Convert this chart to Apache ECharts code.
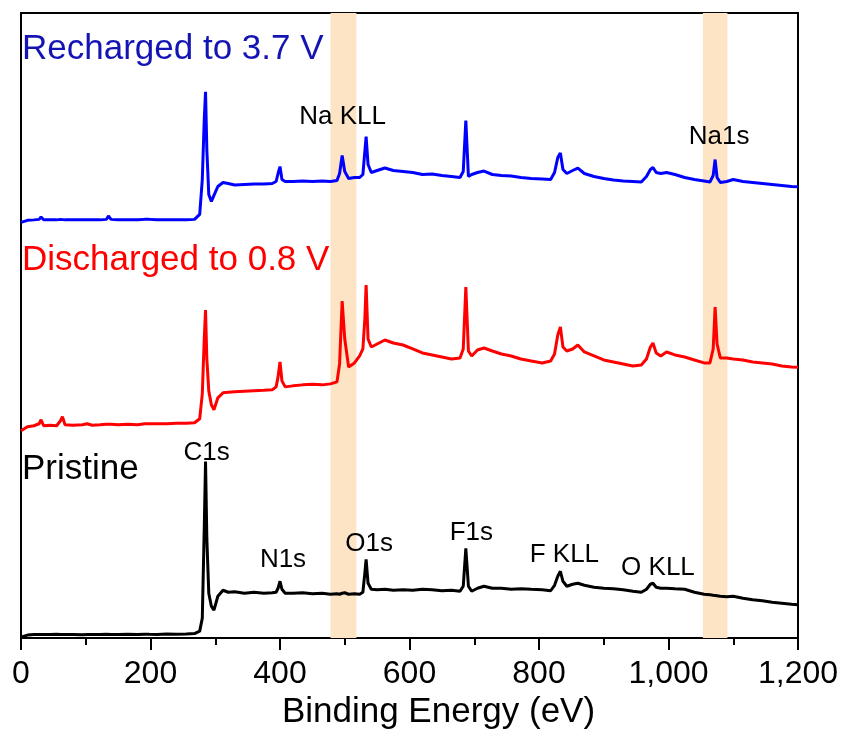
<!DOCTYPE html>
<html>
<head>
<meta charset="utf-8">
<title>XPS survey spectra</title>
<script src="https://cdn.jsdelivr.net/npm/echarts@6/dist/echarts.min.js"></script>
<style>
  html, body { margin: 0; padding: 0; background: #fff; }
  #chart { width: 846px; height: 735px; }
</style>
</head>
<body>
<div id="chart"></div>
<script>
// Binding energy grid (eV) shared by the three survey spectra
const energy = [
  0, 10, 20, 28, 31, 35, 45, 55, 61, 64, 68, 80, 95, 102, 110, 122, 132, 135, 139, 150,
  165, 180, 191, 194, 198, 210, 225, 240, 255, 268, 276, 280, 283, 285, 287, 290, 294, 298, 304, 312,
  320, 330, 345, 360, 375, 388, 394, 397, 400, 403, 408, 420, 435, 450, 465, 478, 488, 492, 496, 500,
  506, 515, 523, 528, 531, 533, 536, 541, 550, 562, 575, 590, 605, 620, 635, 650, 665, 678, 683, 687,
  691, 696, 705, 715, 728, 742, 757, 772, 788, 805, 818, 824, 829, 833, 837, 843, 852, 860, 870, 885,
  900, 915, 930, 945, 958, 966, 972, 976, 981, 988, 997, 1010, 1025, 1040, 1055, 1064, 1069, 1072, 1075, 1080,
  1090, 1100, 1115, 1130, 1145, 1160, 1175, 1190, 1200
];

// Stacked intensities (a.u., offset per sample)
const pristine = [
  1, 3, 3.5, 3.5, 4, 3.5, 3.5, 3.8, 3.5, 3.8, 3.5, 3.6, 3.4, 3.7, 3.5, 3.6, 3.8, 3.6, 3.7, 3.5,
  3.8, 3.6, 3.9, 3.7, 3.8, 3.7, 4, 3.8, 4.1, 4.5, 7, 20, 110, 177, 100, 45, 32, 28, 42, 48,
  46, 46.5, 45, 46, 45, 45.5, 46, 50, 57, 49, 45, 45, 45.5, 44.5, 45, 44, 44.5, 44, 45, 45.5,
  44, 44.5, 44, 46, 65, 79, 55, 49, 48.5, 49, 48, 48.5, 48, 49, 48.5, 47.5, 48, 47, 52, 90,
  52, 47, 50, 52, 50, 50, 49, 49.5, 49, 48.5, 47.5, 53, 62, 67, 57, 52, 54, 55, 53, 51,
  50, 49.5, 48.5, 47, 46, 49, 54, 55, 51, 50, 50, 49.5, 49, 46, 44, 43.5, 43, 43.5, 42.5, 42,
  41.5, 42, 40, 38.5, 37.5, 36, 35, 34, 33.5
];

const discharged = [
  208, 212, 213, 215, 219, 213, 213.5, 213, 218, 222, 214, 213.5, 214, 215, 213.5, 214, 214.5, 214, 214.5, 214,
  214.5, 214, 215, 215.5, 215, 215, 215, 215.5, 215.5, 216, 220, 245, 300, 329, 280, 248, 234, 229, 241, 246,
  246.5, 247, 247.5, 248, 248.5, 249, 252, 262, 277, 258, 252, 253, 254, 254.5, 254, 255, 257, 275, 338, 300,
  272, 276, 283, 290, 320, 354, 300, 292, 295, 299, 296, 294, 290, 286, 284, 282, 280, 281, 290, 352,
  288, 283, 289, 291, 288, 285, 283, 280, 278, 276, 278, 285, 304, 312, 292, 288, 290, 294, 287, 283,
  279, 277, 275, 273, 274, 280, 292, 296, 286, 283, 287, 284, 282, 279, 276, 276, 290, 332, 295, 281,
  281, 280, 279, 277, 276, 275, 273, 272, 271.7
];

const recharged = [
  417, 419, 419.5, 420, 422.5, 419.5, 419.5, 419.5, 420, 422, 419.5, 419.5, 419.5, 419.5, 419.5, 419.5, 420, 423.5, 420, 419.5,
  419.5, 419.5, 420, 422, 420, 419.5, 419.5, 419.5, 419.5, 420, 425, 460, 520, 548, 490, 445, 438, 444, 453, 457,
  456, 454.5, 455, 455.5, 455.5, 456, 458, 466, 473, 460, 458, 458, 458.5, 458, 458.5, 458, 459, 466, 484, 468,
  461, 462, 462, 465, 488, 503, 475, 467, 469, 471.5, 469, 468, 467, 465, 465.5, 464, 463, 462, 468, 519,
  463, 465, 467, 468.5, 465, 464, 463.5, 462, 461, 460.5, 460, 467, 482, 486.5, 470, 466, 469, 471.5, 466, 463,
  461, 459.5, 458.5, 458, 457.5, 463, 470, 472, 467, 466, 467, 465, 462, 460, 458.5, 457.5, 464, 480, 462, 457,
  458, 460, 458, 457, 456, 455, 454, 453, 452.7
];

const sampleNames = ['Recharged to 3.7 V', 'Discharged to 0.8 V', 'Pristine'];

// Peak assignments
const pristinePeakNames = ['C1s', 'N1s', 'O1s', 'F1s', 'F KLL', 'O KLL'];
const pristinePeakEnergies = [285, 400, 533, 687, 833, 976];
const rechargedPeakNames = ['Na KLL', 'Na1s'];
const rechargedPeakEnergies = [496, 1072];

// Highlighted Na regions (eV)
const naBands = [[478, 518], [1053, 1091]];

// Axis range
const xMin = 0, xMax = 1200, xStep = 200;
const yMin = 0, yMax = 627;

const FONT = '"Liberation Sans", Arial, sans-serif';

// Label nudges (px) relative to each peak top
const labelOffsets = {
  'C1s': [1, -9], 'N1s': [3, -21], 'O1s': [3, -16], 'F1s': [5.5, -15.5],
  'F KLL': [4, -16], 'O KLL': [5, -15.5], 'Na KLL': [0.5, -38.5], 'Na1s': [4, -23]
};

function pairs(values) {
  return energy.map((e, i) => [e, values[i]]);
}

function peakMarks(names, energies, values) {
  return names.map((name, k) => {
    const idx = energy.indexOf(energies[k]);
    return {
      name: name,
      coord: [energies[k], values[idx]],
      label: { formatter: name, offset: labelOffsets[name] }
    };
  });
}

function markPointStyle(data) {
  return {
    symbol: 'circle',
    symbolSize: 1,
    itemStyle: { color: 'rgba(0,0,0,0)' },
    label: {
      show: true, position: 'inside', color: '#000',
      fontSize: 26, fontFamily: FONT, align: 'center', verticalAlign: 'middle'
    },
    data: data,
    silent: true
  };
}

function lineSeries(name, values, color) {
  return {
    name: name,
    type: 'line',
    data: pairs(values),
    showSymbol: false,
    symbol: 'none',
    lineStyle: { color: color, width: 3 },
    itemStyle: { color: color },
    z: 3,
    silent: true
  };
}

const chart = echarts.init(document.getElementById('chart'), null, { renderer: 'canvas' });

const series = [
  {
    name: 'bands',
    type: 'line',
    data: [],
    z: 1,
    silent: true,
    markArea: {
      silent: true,
      itemStyle: { color: '#FDE4C4' },
      data: naBands.map(b => [{ xAxis: b[0] }, { xAxis: b[1] }])
    }
  },
  Object.assign(lineSeries(sampleNames[0], recharged, '#0000FF'), {
    markPoint: markPointStyle(peakMarks(rechargedPeakNames, rechargedPeakEnergies, recharged))
  }),
  lineSeries(sampleNames[1], discharged, '#FF0000'),
  Object.assign(lineSeries(sampleNames[2], pristine, '#000000'), {
    markPoint: markPointStyle(peakMarks(pristinePeakNames, pristinePeakEnergies, pristine))
  })
];

const titleColors = ['#1414b4', '#FF0000', '#000000'];
const titleY = [49, 260, 469];

chart.setOption({
  animation: false,
  backgroundColor: '#fff',
  grid: {
    left: 21, right: 48, top: 13, bottom: 95,
    show: true, borderColor: '#000', borderWidth: 2, backgroundColor: 'transparent'
  },
  xAxis: {
    type: 'value',
    min: xMin, max: xMax, interval: xStep,
    name: 'Binding Energy (eV)',
    nameLocation: 'middle',
    nameGap: 54,
    nameTextStyle: { fontSize: 35, fontFamily: FONT, color: '#000', padding: [0, 0, 0, 58] },
    axisLine: { show: true, lineStyle: { color: '#000', width: 2 } },
    axisTick: { show: true, inside: false, length: 12, lineStyle: { color: '#000', width: 2 } },
    minorTick: { show: true, splitNumber: 2, length: 7, lineStyle: { color: '#000', width: 2 } },
    axisLabel: {
      fontSize: 32, fontFamily: FONT, color: '#000', margin: 20,
      formatter: v => v.toLocaleString('en-US')
    },
    splitLine: { show: false },
    minorSplitLine: { show: false }
  },
  yAxis: {
    type: 'value',
    min: yMin, max: yMax,
    axisLine: { show: false },
    axisTick: { show: false },
    axisLabel: { show: false },
    splitLine: { show: false }
  },
  graphic: sampleNames.map((name, i) => ({
    type: 'text',
    x: 22,
    y: titleY[i],
    z: 10,
    style: {
      text: name,
      fill: titleColors[i],
      fontSize: 35,
      fontFamily: FONT,
      align: 'left',
      verticalAlign: 'middle'
    }
  })),
  series: series
});
</script>
</body>
</html>
